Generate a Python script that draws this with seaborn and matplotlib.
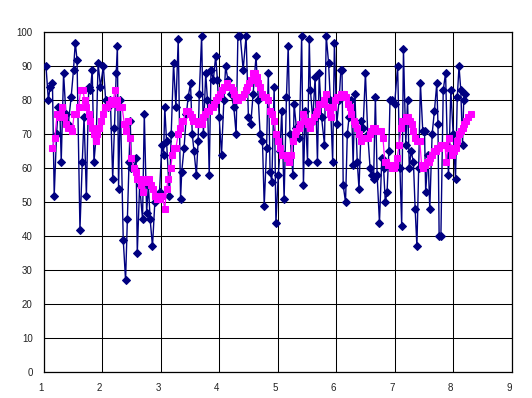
import matplotlib
matplotlib.use("Agg")
import matplotlib.pyplot as plt
import seaborn as sns
import pandas as pd

# Raw series (navy diamonds)
raw_x = [1.04, 1.08, 1.11, 1.15, 1.18, 1.22, 1.25, 1.28, 1.30, 1.34, 1.38, 1.42, 1.47, 1.51,
         1.54, 1.57, 1.62, 1.66, 1.69, 1.73, 1.77, 1.80, 1.83, 1.86, 1.90, 1.93, 1.97, 2.02,
         2.06, 2.10, 2.14, 2.18, 2.21, 2.24, 2.26, 2.28, 2.31, 2.36, 2.40, 2.43, 2.46, 2.48,
         2.50, 2.54, 2.58, 2.60, 2.64, 2.69, 2.72, 2.76, 2.79, 2.82, 2.86, 2.90, 2.94, 2.98,
         3.02, 3.05, 3.07, 3.10, 3.15, 3.18, 3.22, 3.26, 3.30, 3.34, 3.36, 3.40, 3.44, 3.47,
         3.51, 3.54, 3.57, 3.61, 3.64, 3.66, 3.70, 3.73, 3.77, 3.80, 3.83, 3.86, 3.90, 3.94,
         3.97, 4.00, 4.04, 4.08, 4.11, 4.15, 4.20, 4.25, 4.29, 4.32, 4.36, 4.41, 4.46, 4.50,
         4.54, 4.58, 4.63, 4.67, 4.70, 4.74, 4.77, 4.81, 4.84, 4.87, 4.90, 4.94, 4.97, 5.01,
         5.04, 5.07, 5.11, 5.15, 5.18, 5.21, 5.26, 5.28, 5.32, 5.37, 5.41, 5.44, 5.47, 5.51,
         5.54, 5.56, 5.60, 5.64, 5.68, 5.71, 5.75, 5.80, 5.83, 5.87, 5.90, 5.94, 5.97, 6.01,
         6.05, 6.08, 6.10, 6.12, 6.16, 6.19, 6.22, 6.26, 6.29, 6.32, 6.36, 6.39, 6.43, 6.46,
         6.50, 6.54, 6.58, 6.61, 6.64, 6.67, 6.70, 6.74, 6.78, 6.81, 6.84, 6.87, 6.90, 6.92,
         6.96, 7.00, 7.05, 7.09, 7.12, 7.15, 7.19, 7.22, 7.25, 7.28, 7.32, 7.35, 7.38, 7.41,
         7.44, 7.48, 7.51, 7.53, 7.57, 7.60, 7.64, 7.68, 7.72, 7.74, 7.76, 7.79, 7.83, 7.87,
         7.90, 7.92, 7.96, 8.00, 8.04, 8.07, 8.10, 8.13, 8.16, 8.18, 8.20]
raw_y = [90, 80, 84, 85, 52, 70, 78, 75, 62, 88, 76, 73, 81, 89,
         97, 92, 42, 62, 75, 52, 84, 83, 89, 62, 70, 91, 84, 90,
         80, 78, 80, 57, 72, 88, 96, 54, 80, 39, 27, 45, 62, 74,
         60, 60, 63, 35, 55, 45, 76, 47, 55, 45, 37, 50, 52, 53,
         67, 64, 78, 68, 52, 70, 91, 78, 98, 51, 59, 66, 76, 81,
         85, 70, 65, 58, 68, 82, 99, 70, 88, 80, 58, 89, 86, 93,
         86, 75, 64, 80, 90, 86, 82, 78, 70, 99, 99, 89, 99, 75,
         73, 82, 93, 80, 70, 68, 49, 66, 88, 59, 56, 84, 44, 58,
         65, 77, 51, 81, 96, 70, 58, 79, 72, 69, 99, 55, 77, 62,
         98, 83, 74, 87, 62, 88, 75, 67, 99, 91, 80, 62, 97, 73,
         80, 89, 89, 55, 50, 70, 75, 80, 61, 82, 62, 54, 74, 72,
         88, 70, 60, 58, 57, 81, 58, 44, 63, 60, 50, 53, 65, 80,
         80, 79, 90, 60, 43, 95, 67, 80, 60, 65, 62, 48, 37, 60,
         85, 71, 71, 53, 64, 48, 70, 77, 85, 73, 40, 40, 83, 88,
         67, 58, 83, 70, 57, 81, 90, 83, 67, 80, 82]

# Smoothed series (magenta squares)
avg_x = [1.15, 1.19, 1.23, 1.26, 1.29, 1.32, 1.35, 1.39, 1.42, 1.46, 1.49, 1.52, 1.56, 1.60,
         1.63, 1.67, 1.70, 1.73, 1.77, 1.80, 1.83, 1.86, 1.89, 1.92, 1.95, 1.98, 2.01, 2.05,
         2.08, 2.11, 2.15, 2.18, 2.22, 2.25, 2.28, 2.31, 2.34, 2.38, 2.41, 2.44, 2.47, 2.50,
         2.54, 2.57, 2.60, 2.64, 2.67, 2.70, 2.74, 2.77, 2.80, 2.84, 2.87, 2.90, 2.93, 2.96,
         2.99, 3.03, 3.07, 3.10, 3.13, 3.17, 3.20, 3.23, 3.26, 3.30, 3.33, 3.36, 3.39, 3.43,
         3.47, 3.50, 3.53, 3.56, 3.60, 3.63, 3.66, 3.70, 3.73, 3.76, 3.80, 3.83, 3.86, 3.89,
         3.92, 3.95, 3.98, 4.01, 4.05, 4.08, 4.11, 4.14, 4.17, 4.20, 4.23, 4.26, 4.29, 4.32,
         4.36, 4.39, 4.42, 4.45, 4.48, 4.51, 4.54, 4.58, 4.61, 4.64, 4.67, 4.70, 4.73, 4.76,
         4.80, 4.83, 4.87, 4.90, 4.93, 4.97, 5.00, 5.04, 5.07, 5.10, 5.13, 5.16, 5.20, 5.23,
         5.26, 5.29, 5.32, 5.36, 5.39, 5.43, 5.46, 5.49, 5.52, 5.56, 5.59, 5.62, 5.65, 5.68,
         5.71, 5.74, 5.77, 5.80, 5.83, 5.86, 5.89, 5.92, 5.95, 5.98, 6.02, 6.05, 6.08, 6.11,
         6.14, 6.17, 6.20, 6.23, 6.26, 6.30, 6.33, 6.36, 6.39, 6.42, 6.45, 6.48, 6.51, 6.54,
         6.57, 6.60, 6.63, 6.66, 6.69, 6.72, 6.76, 6.80, 6.83, 6.86, 6.89, 6.92, 6.95, 6.98,
         7.01, 7.04, 7.08, 7.11, 7.13, 7.17, 7.20, 7.23, 7.26, 7.29, 7.32, 7.35, 7.38, 7.41,
         7.43, 7.46, 7.49, 7.52, 7.55, 7.58, 7.61, 7.64, 7.67, 7.70, 7.73, 7.76, 7.80, 7.83,
         7.86, 7.88, 7.91, 7.93, 7.96, 7.98, 8.01, 8.04, 8.07, 8.10, 8.13, 8.16, 8.19, 8.22,
         8.26, 8.30]
avg_y = [66, 69, 76, 75, 76, 78, 75, 73, 72, 72, 71, 76, 76, 78,
         83, 83, 80, 78, 76, 74, 72, 70, 68, 70, 72, 74, 76, 78,
         78, 79, 80, 79, 83, 80, 78, 78, 78, 73, 71, 74, 69, 63,
         60, 59, 57, 57, 55, 53, 56, 57, 57, 55, 54, 52, 51, 51,
         51, 52, 48, 54, 57, 60, 64, 66, 66, 70, 72, 74, 74, 77,
         77, 76, 75, 74, 74, 73, 73, 73, 75, 76, 77, 77, 78, 78,
         79, 80, 81, 82, 83, 84, 84, 85, 84, 84, 83, 82, 80, 80,
         81, 81, 82, 83, 84, 85, 86, 88, 88, 87, 85, 84, 82, 81,
         81, 80, 77, 76, 74, 70, 68, 66, 64, 64, 64, 63, 62, 64,
         68, 70, 71, 72, 73, 76, 74, 74, 73, 72, 74, 75, 76, 77,
         79, 79, 79, 80, 82, 78, 76, 75, 78, 80, 81, 81, 82, 82,
         82, 81, 79, 78, 76, 74, 73, 72, 70, 68, 69, 69, 69, 69,
         70, 71, 72, 72, 71, 71, 71, 69, 62, 62, 61, 61, 60, 60,
         61, 63, 67, 72, 74, 74, 75, 75, 74, 73, 71, 69, 68, 68,
         68, 61, 60, 61, 62, 62, 63, 64, 65, 65, 66, 66, 67, 67,
         67, 62, 66, 69, 66, 64, 65, 66, 68, 70, 71, 72, 73, 74,
         75, 76]

x_ticks = [1, 2, 3, 4, 5, 6, 7, 8, 9]
y_ticks = [0, 10, 20, 30, 40, 50, 60, 70, 80, 90, 100]

sns.set_style("white")
plt.rcParams['font.family'] = ['Liberation Sans', 'DejaVu Sans']

fig = plt.figure(figsize=(5.32, 3.98), dpi=100)
ax = fig.add_axes([0.0821, 0.0646, 0.8797, 0.8542])

raw_df = pd.DataFrame({"x": raw_x, "y": raw_y})
avg_df = pd.DataFrame({"x": avg_x, "y": avg_y})

sns.lineplot(data=raw_df, x="x", y="y", ax=ax, color="#000080", linewidth=1.0,
             marker="D", markersize=3.6, markeredgecolor="#000080",
             markerfacecolor="#000080", sort=False, estimator=None, zorder=3)
sns.lineplot(data=avg_df, x="x", y="y", ax=ax, color="#FF00FF", linewidth=0.9,
             marker="s", markersize=4.6, markeredgecolor="#FF00FF",
             markerfacecolor="#FF00FF", sort=False, estimator=None, zorder=4)

ax.set_xlim(1, 9)
ax.set_ylim(0, 100)
ax.set_xticks(x_ticks)
ax.set_yticks(y_ticks)
ax.set_xticklabels([str(t) for t in x_ticks])
ax.set_yticklabels([str(t) for t in y_ticks])
ax.grid(True, color="black", linewidth=0.75)
ax.set_axisbelow(True)
for s in ax.spines.values():
    s.set_color("black")
    s.set_linewidth(0.9)
ax.tick_params(axis="y", direction="out", length=0, colors="#222222",
               labelsize=7, pad=8)
ax.tick_params(axis="x", direction="out", length=0, colors="#222222",
               labelsize=7, pad=8)
for lab in ax.get_xticklabels():
    lab.set_horizontalalignment("right")
ax.set_xlabel("")
ax.set_ylabel("")

fig.savefig("out.png", dpi=100, facecolor="white")
